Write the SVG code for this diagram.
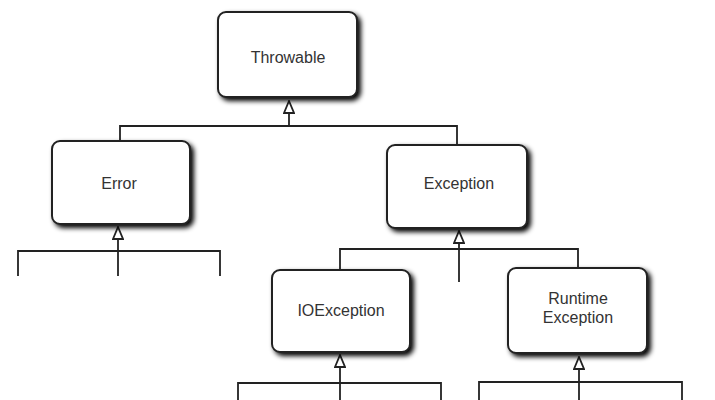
<svg xmlns="http://www.w3.org/2000/svg" width="715" height="400" viewBox="0 0 715 400">
<defs>
<filter id="sh" x="-20%" y="-20%" width="150%" height="150%">
<feGaussianBlur in="SourceAlpha" stdDeviation="2.5"/>
<feOffset dx="3" dy="3" result="b"/>
<feComponentTransfer><feFuncA type="linear" slope="1"/></feComponentTransfer>
<feMerge><feMergeNode/><feMergeNode in="SourceGraphic"/></feMerge>
</filter>
<marker id="tri" viewBox="0 0 14 12" refX="13" refY="6" markerWidth="14" markerHeight="12" markerUnits="userSpaceOnUse" orient="auto">
<path d="M1,1 L13,6 L1,11 Z" fill="#fff" stroke="#222" stroke-width="1.8"/>
</marker>
</defs>
<style>
.box{fill:#fff;stroke:#222;stroke-width:2;filter:url(#sh)}
.lbl{font-family:"Liberation Sans",Arial,sans-serif;font-size:16px;fill:#333;text-anchor:middle}
.ln{fill:none;stroke:#222;stroke-width:1.8}
</style>
<rect width="715" height="400" fill="#fff"/>
<g id="connectors">
<path class="ln" d="M289,126 L289,101" marker-end="url(#tri)"/>
<path class="ln" d="M120,141 L120,126 L457,126 L457,145"/>
<path class="ln" d="M118,276 L118,227" marker-end="url(#tri)"/>
<path class="ln" d="M18,276 L18,251 L220,251 L220,276"/>
<path class="ln" d="M459,282 L459,231" marker-end="url(#tri)"/>
<path class="ln" d="M340,270 L340,249 L578,249 L578,268"/>
<path class="ln" d="M340,400 L340,355" marker-end="url(#tri)"/>
<path class="ln" d="M238,400 L238,383 L441,383 L441,400"/>
<path class="ln" d="M579,400 L579,357" marker-end="url(#tri)"/>
<path class="ln" d="M479,400 L479,382 L682,382 L682,400"/>
</g>
<g id="throwable">
<rect class="box" x="218" y="12" width="139" height="85" rx="8"/>
<text class="lbl" x="288" y="63">Throwable</text>
</g>
<g id="error">
<rect class="box" x="52" y="141" width="138" height="83" rx="8"/>
<text class="lbl" x="119" y="189">Error</text>
</g>
<g id="exception">
<rect class="box" x="387" y="145" width="140" height="83" rx="8"/>
<text class="lbl" x="459" y="189">Exception</text>
</g>
<g id="ioexception">
<rect class="box" x="272" y="270" width="138" height="82" rx="8"/>
<text class="lbl" x="341" y="316">IOException</text>
</g>
<g id="runtimeexception">
<rect class="box" x="508" y="268" width="139" height="85" rx="8"/>
<text class="lbl" x="578" y="304">Runtime</text>
<text class="lbl" x="578" y="323">Exception</text>
</g>
</svg>
